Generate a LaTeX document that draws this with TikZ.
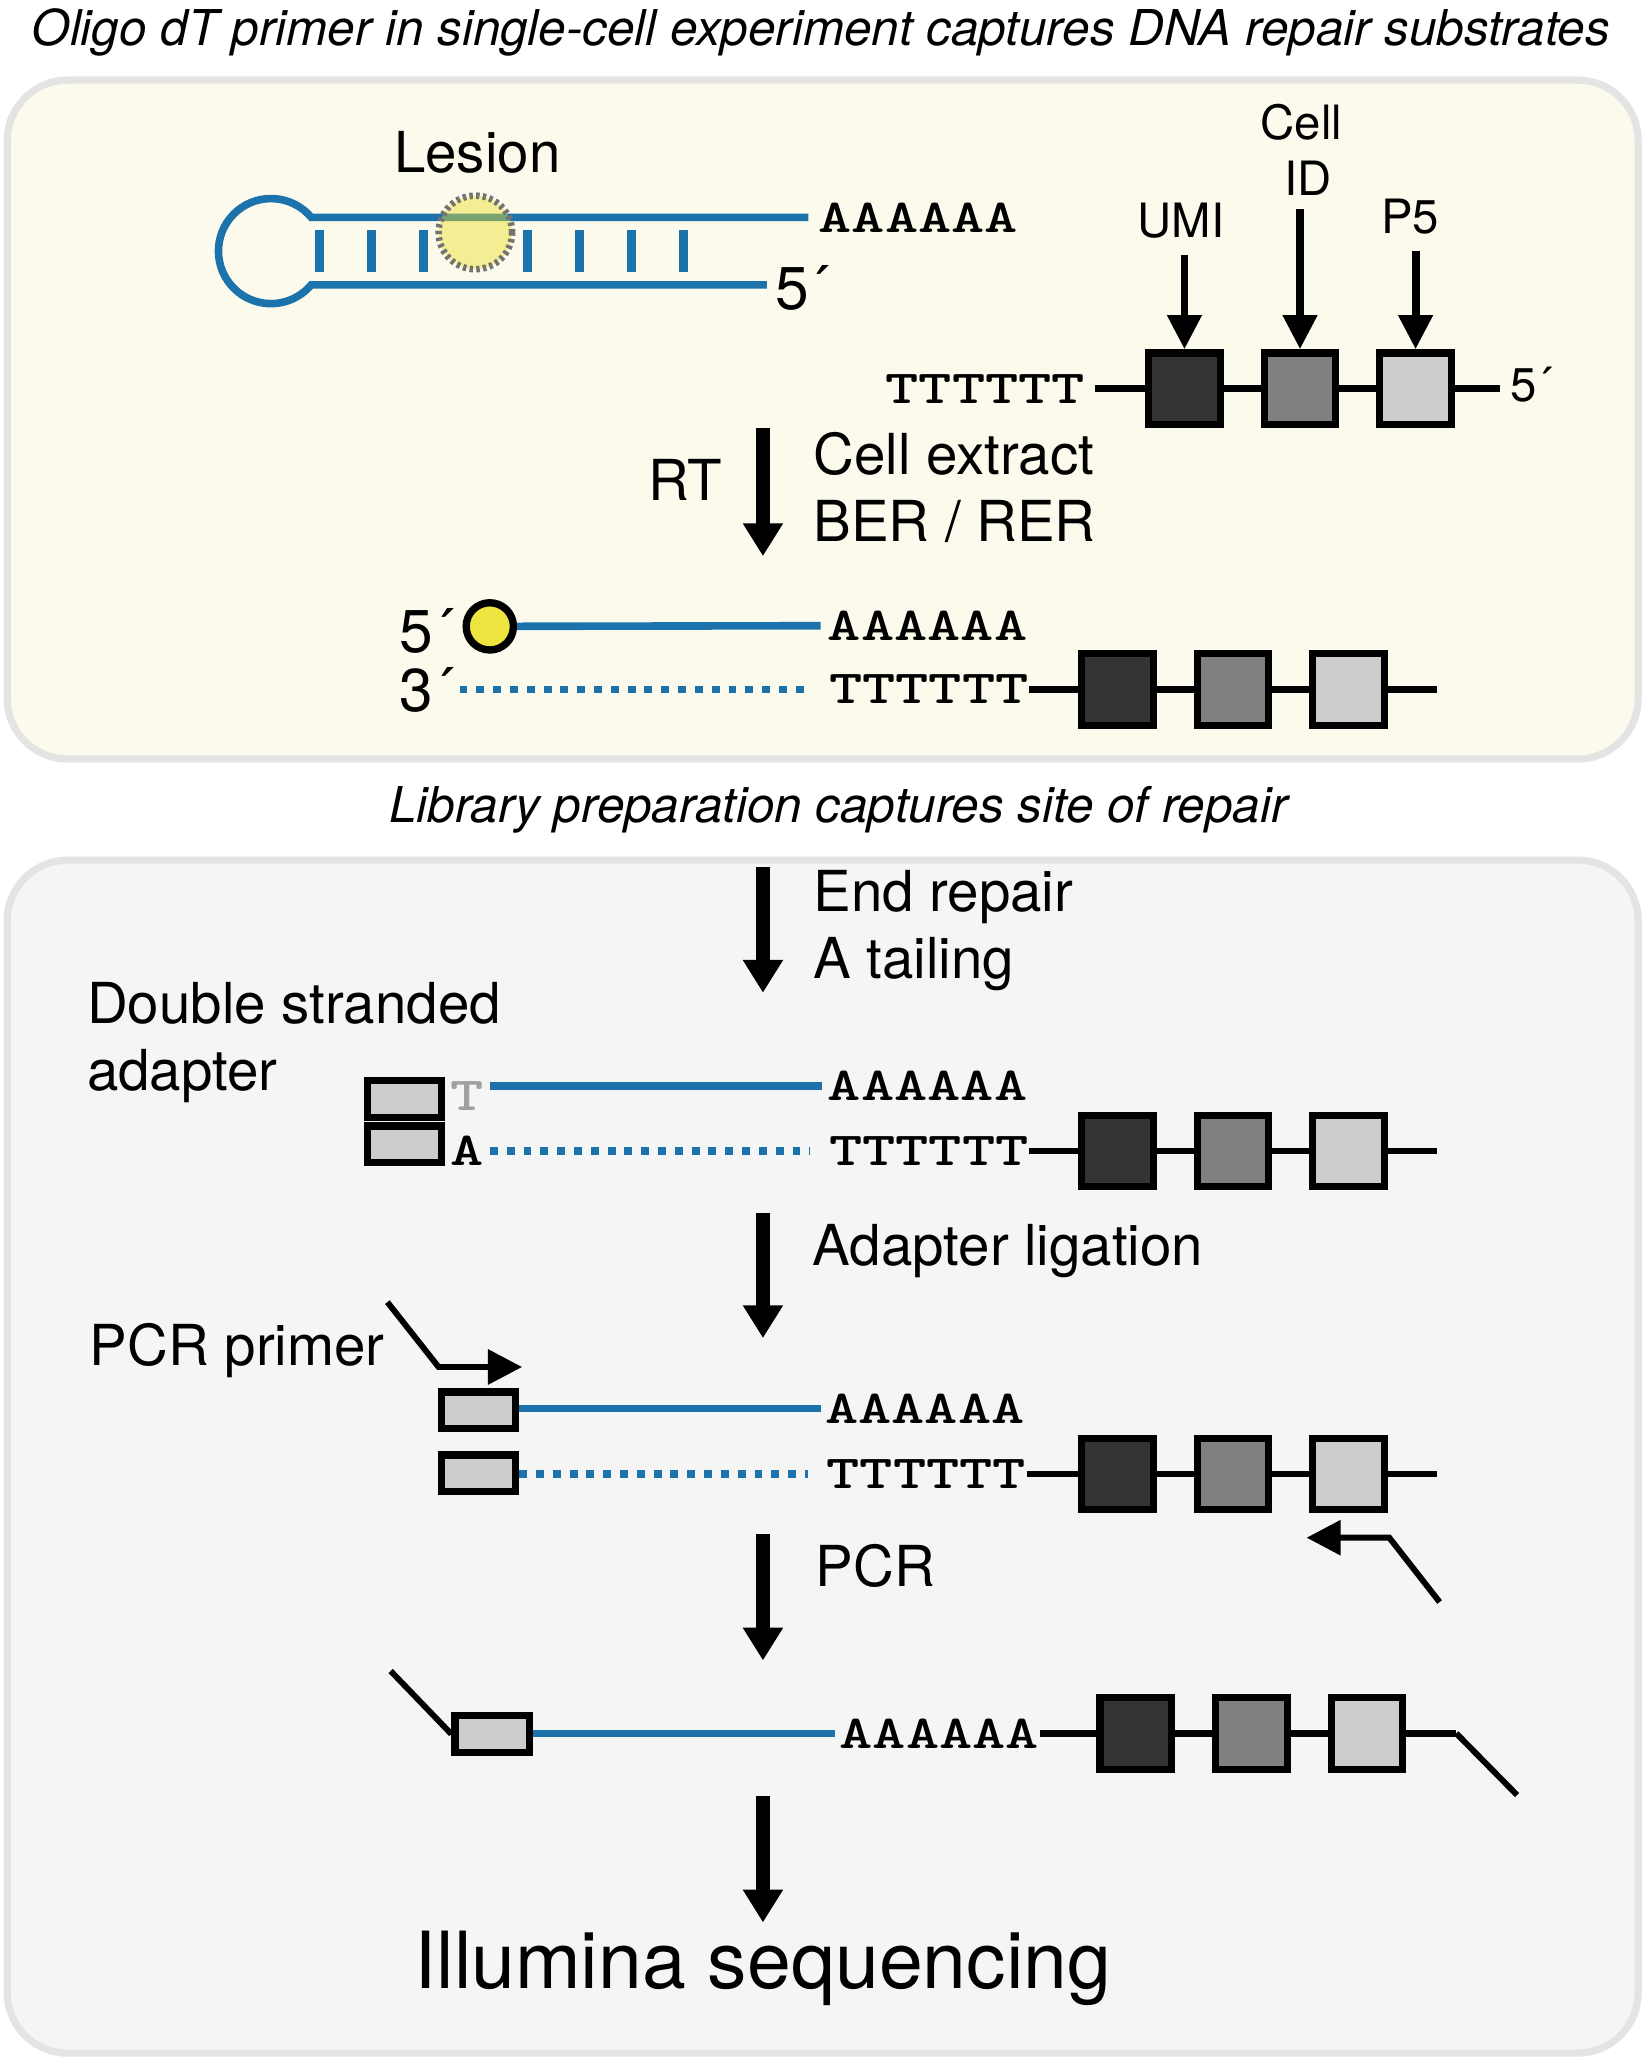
\documentclass[tikz,border=0pt]{standalone}
\usepackage{fontspec}
\setmainfont{TeX Gyre Heros}
\newfontfamily\seqfont{lmmonolt10-bold.otf}[FakeStretch = 1.34]
\usetikzlibrary{positioning, arrows.meta}

\definecolor{dnaBlue}{RGB}{28,115,171}
\definecolor{creamFill}{RGB}{252,250,236}
\definecolor{greyFill}{RGB}{245,245,245}
\definecolor{panelEdge}{RGB}{228,228,228}
\definecolor{dotYellow}{RGB}{237,228,64}
\definecolor{lesionYellow}{RGB}{236,223,42}
\definecolor{lesionEdge}{RGB}{115,115,115}
\definecolor{umiGrey}{RGB}{51,51,51}
\definecolor{cellGrey}{RGB}{128,128,128}
\definecolor{pfiveGrey}{RGB}{204,204,204}
\definecolor{tGrey}{RGB}{160,160,160}

\tikzset{
  panel/.style = {draw = panelEdge, line width = 2.75pt, rounded corners = 23pt},
  strand/.style = {draw = dnaBlue, line width = 2.9pt},
  dotStrand/.style = {strand, dash pattern = on 3pt off 3.4pt},
  rung/.style = {draw = dnaBlue, line width = 3.2pt},
  backbone/.style = {draw = black, line width = 2.6pt},
  barBox/.style = {rectangle, draw = black, line width = 2.75pt, minimum size = 27.25pt, inner sep = 0pt},
  adBox/.style = {rectangle, draw = black, fill = pfiveGrey, line width = 2.75pt, minimum width = 28.25pt, minimum height = 14pt, inner sep = 0pt},
  lesionSpot/.style = {circle, fill = lesionYellow, fill opacity = 0.45, draw = lesionEdge, draw opacity = 1, line width = 2.5pt, dash pattern = on 1.3pt off 1.25pt, minimum size = 28pt, inner sep = 0pt},
  endDot/.style = {circle, draw = black, fill = dotYellow, line width = 2.8pt, minimum size = 18pt, inner sep = 0pt},
  seqText/.style = {inner sep = 0pt, font = \seqfont\fontsize{18pt}{21pt}\selectfont},
  titleText/.style = {inner sep = 0pt, font = \itshape\fontsize{18.8pt}{22pt}\selectfont},
  bigLabel/.style = {inner sep = 0pt, font = \fontsize{21.5pt}{25pt}\selectfont},
  smallLabel/.style = {inner sep = 0pt, font = \fontsize{18pt}{21pt}\selectfont},
  primeLabel/.style = {inner sep = 0pt, font = \fontsize{23pt}{27pt}\selectfont},
  stepArrow/.style = {line width = 5pt, -{Triangle[length = 12.5pt, width = 14.5pt]}},
  tagArrow/.style = {line width = 3pt, -{Triangle[length = 13pt, width = 12.5pt]}},
  primer/.style = {line width = 2.25pt, -{Triangle[length = 13pt, width = 13pt]}},
  tail/.style = {line width = 2.25pt}
}

\begin{document}
\begin{tikzpicture}[x = 0.5pt, y = -0.5pt]
        \useasboundingbox (0, 0) rectangle (1253, 1568);
        \draw[panel, fill = creamFill] (5.5, 61) rectangle (1247.5, 578);
        \draw[panel, fill = greyFill] (5.5, 655) rectangle (1247.5, 1563.5);

        \node[titleText, anchor = base] (titleNode) at (625, 35) {Oligo dT primer in single-cell experiment captures DNA repair substrates};

        % hairpin substrate
        \node[seqText, anchor = west] (polyAHair) at (623, 165.5) {AAAAAA};
        \coordinate (loopTop) at (237, 165.5);
        \coordinate (loopEnd) at (584, 216.9);
        \draw[strand, shorten <= 3.7pt] (polyAHair.west) -- (loopTop) arc[start angle = 40, end angle = 320, radius = 20pt] -- (loopEnd);
        \draw[rung] (243.4, 175) -- (243.4, 207);
        \draw[rung] (283, 175) -- (283, 207);
        \draw[rung] (322.6, 175) -- (322.6, 207);
        \draw[rung] (401.8, 175) -- (401.8, 207);
        \draw[rung] (441.4, 175) -- (441.4, 207);
        \draw[rung] (481, 175) -- (481, 207);
        \draw[rung] (520.6, 175) -- (520.6, 207);
        \node[lesionSpot] (lesionNode) at (362, 177) {};
        \node[bigLabel, anchor = base] (lesionLabel) at (363.5, 131) {Lesion};
        \node[primeLabel, anchor = base west] (fiveHair) at (590, 236) {5´};

        % oligo dT primer
        \node[seqText, anchor = west] (polyTTop) at (674, 296) {TTTTTT};
        \node[barBox, fill = umiGrey] (umiTop) at (902, 296) {};
        \node[barBox, fill = cellGrey, right = 14pt of umiTop] (cellTop) {};
        \node[barBox, fill = pfiveGrey, right = 14pt of cellTop] (pfiveTop) {};
        \node[smallLabel, anchor = base west] (fiveTop) at (1150, 306) {5´};
        \draw[backbone, shorten <= 3.5pt] (polyTTop.east) -- (umiTop.west);
        \draw[backbone] (umiTop.east) -- (cellTop.west);
        \draw[backbone] (cellTop.east) -- (pfiveTop.west);
        \draw[backbone, shorten >= 4pt] (pfiveTop.east) -- (pfiveTop.east -| fiveTop.west);

        \node[smallLabel, anchor = base] (umiLabel) at (899.5, 181) {UMI};
        \node[smallLabel, anchor = base] (cellLabel) at (991, 106) {Cell};
        \node[smallLabel, anchor = base] (idLabel) at (996, 149) {ID};
        \node[smallLabel, anchor = base] (pfiveLabel) at (1074, 178) {P5};
        \draw[tagArrow, shorten <= 6pt] (umiTop.north |- umiLabel.south) -- (umiTop.north);
        \draw[tagArrow, shorten <= 5pt] (cellTop.north |- idLabel.south) -- (cellTop.north);
        \draw[tagArrow, shorten <= 6pt] (pfiveTop.north |- pfiveLabel.south) -- (pfiveTop.north);

        % RT step
        \coordinate (rtStart) at (581, 326);
        \coordinate (rtEnd) at (581, 423.5);
        \draw[stepArrow] (rtStart) -- (rtEnd);
        \node[bigLabel, anchor = base] (rtLabel) at (522, 381) {RT};
        \node[bigLabel, anchor = base west] (extractLabel) at (619, 361) {Cell extract};
        \node[bigLabel, anchor = base west] (berLabel) at (619, 412) {BER / RER};

        % repaired product
        \node[endDot] (dotA) at (373, 477) {};
        \node[seqText, anchor = west] (polyAA) at (630, 476.5) {AAAAAA};
        \node[seqText, anchor = west] (polyTA) at (631, 525) {TTTTTT};
        \coordinate (dotsStartA) at (350, 525);
        \draw[strand, shorten >= 2.5pt] (dotA) -- (polyAA.west);
        \draw[dotStrand, shorten >= 7pt] (dotsStartA) -- (polyTA.west);
        \node[primeLabel, anchor = base west] (fiveA) at (304, 497) {5´};
        \node[primeLabel, anchor = base west] (threeA) at (304, 542) {3´};
        \node[barBox, fill = umiGrey] (umiA) at (851, 525) {};
        \node[barBox, fill = cellGrey, right = 14pt of umiA] (cellA) {};
        \node[barBox, fill = pfiveGrey, right = 14pt of cellA] (pfiveA) {};
        \coordinate (endA) at (1094, 525);
        \draw[backbone] (polyTA.east) -- (umiA.west);
        \draw[backbone] (umiA.east) -- (cellA.west);
        \draw[backbone] (cellA.east) -- (pfiveA.west);
        \draw[backbone] (pfiveA.east) -- (endA);

        \node[titleText, anchor = base] (libraryNode) at (638.5, 626.5) {Library preparation captures site of repair};

        % end repair
        \coordinate (erStart) at (581, 660);
        \coordinate (erEnd) at (581, 756);
        \draw[stepArrow] (erStart) -- (erEnd);
        \node[bigLabel, anchor = base west] (endRepairLabel) at (619, 694.3) {End repair};
        \node[bigLabel, anchor = base west] (tailingLabel) at (619, 745.1) {A tailing};
        \node[bigLabel, anchor = base west] (doubleLabel) at (66, 779.4) {Double stranded};
        \node[bigLabel, anchor = base west] (adapterLabel) at (66, 830.7) {adapter};

        \node[adBox] (adTopB) at (308, 836.8) {};
        \node[adBox] (adBotB) at (308, 871.5) {};
        \node[seqText, anchor = west, text = tGrey] (tOverhang) at (343, 834.5) {T};
        \node[seqText, anchor = west] (aOverhang) at (343, 876.5) {A};
        \node[seqText, anchor = west] (polyAB) at (630, 827) {AAAAAA};
        \node[seqText, anchor = west] (polyTB) at (631, 876.5) {TTTTTT};
        \draw[strand, shorten <= 2pt, shorten >= 2pt] (tOverhang.east |- polyAB.west) -- (polyAB.west);
        \draw[dotStrand, shorten <= 2pt, shorten >= 7pt] (aOverhang.east) -- (polyTB.west);
        \node[barBox, fill = umiGrey] (umiB) at (851, 876.5) {};
        \node[barBox, fill = cellGrey, right = 14pt of umiB] (cellB) {};
        \node[barBox, fill = pfiveGrey, right = 14pt of cellB] (pfiveB) {};
        \coordinate (endB) at (1094, 876.5);
        \draw[backbone] (polyTB.east) -- (umiB.west);
        \draw[backbone] (umiB.east) -- (cellB.west);
        \draw[backbone] (cellB.east) -- (pfiveB.west);
        \draw[backbone] (pfiveB.east) -- (endB);

        % adapter ligation
        \coordinate (ligStart) at (581, 923.5);
        \coordinate (ligEnd) at (581, 1019);
        \draw[stepArrow] (ligStart) -- (ligEnd);
        \node[bigLabel, anchor = base west] (ligationLabel) at (618.5, 964) {Adapter ligation};
        \node[bigLabel, anchor = base west] (primerLabel) at (68, 1040) {PCR primer};

        \coordinate (fwdStart) at (295, 991.6);
        \coordinate (fwdKnee) at (334, 1041);
        \coordinate (fwdTip) at (397.6, 1041);
        \draw[primer] (fwdStart) -- (fwdKnee) -- (fwdTip);

        \node[adBox] (adTopC) at (364.4, 1074) {};
        \node[adBox] (adBotC) at (364.4, 1122) {};
        \node[seqText, anchor = west] (polyAC) at (628, 1072.5) {AAAAAA};
        \node[seqText, anchor = west] (polyTC) at (629, 1122.5) {TTTTTT};
        \draw[strand, shorten >= 1.5pt] (adTopC.east |- polyAC.west) -- (polyAC.west);
        \draw[dotStrand, shorten >= 7pt] (adBotC.east |- polyTC.west) -- (polyTC.west);
        \node[barBox, fill = umiGrey] (umiC) at (851, 1122.5) {};
        \node[barBox, fill = cellGrey, right = 14pt of umiC] (cellC) {};
        \node[barBox, fill = pfiveGrey, right = 14pt of cellC] (pfiveC) {};
        \coordinate (endC) at (1094, 1122.5);
        \draw[backbone] (polyTC.east) -- (umiC.west);
        \draw[backbone] (umiC.east) -- (cellC.west);
        \draw[backbone] (cellC.east) -- (pfiveC.west);
        \draw[backbone] (pfiveC.east) -- (endC);

        \coordinate (revStart) at (1096.3, 1220);
        \coordinate (revKnee) at (1058, 1171);
        \coordinate (revTip) at (995, 1171);
        \draw[primer] (revStart) -- (revKnee) -- (revTip);

        % PCR
        \coordinate (pcrStart) at (581, 1168);
        \coordinate (pcrEnd) at (581, 1264.5);
        \draw[stepArrow] (pcrStart) -- (pcrEnd);
        \node[bigLabel, anchor = base west] (pcrLabel) at (621, 1208) {PCR};

        \node[adBox] (adD) at (374.7, 1320.5) {};
        \node[seqText, anchor = west] (polyAD) at (639, 1320) {AAAAAA};
        \coordinate (leftTail) at (297.5, 1272.5);
        \draw[tail] (leftTail) -- (adD.west);
        \draw[strand, shorten >= 1.5pt] (adD.east |- polyAD.west) -- (polyAD.west);
        \node[barBox, fill = umiGrey] (umiD) at (865, 1320) {};
        \node[barBox, fill = cellGrey, right = 14pt of umiD] (cellD) {};
        \node[barBox, fill = pfiveGrey, right = 14pt of cellD] (pfiveD) {};
        \coordinate (rightKnee) at (1109, 1320);
        \coordinate (rightTail) at (1155.3, 1367);
        \draw[backbone] (polyAD.east) -- (umiD.west);
        \draw[backbone] (umiD.east) -- (cellD.west);
        \draw[backbone] (cellD.east) -- (pfiveD.west);
        \draw[backbone] (pfiveD.east) -- (rightKnee);
        \draw[tail] (rightKnee) -- (rightTail);

        % sequencing
        \coordinate (seqStart) at (581, 1368);
        \coordinate (seqEnd) at (581, 1464);
        \draw[stepArrow] (seqStart) -- (seqEnd);
        \node[inner sep = 0pt, font = \fontsize{30pt}{36pt}\selectfont, anchor = base] (illuminaNode) at (581, 1514.3) {Illumina sequencing};
\end{tikzpicture}
\end{document}
